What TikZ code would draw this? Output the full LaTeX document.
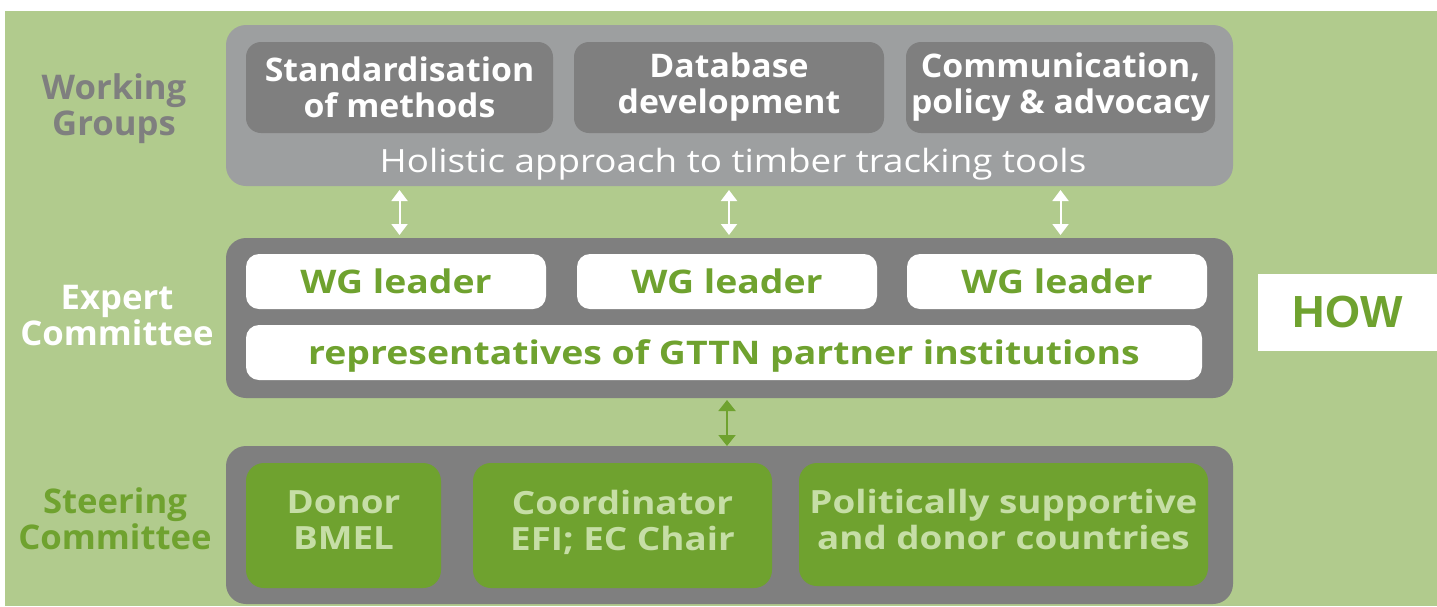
\documentclass[tikz,border=0pt]{standalone}
\usepackage{fontspec}
\setmainfont{Open Sans}
\newfontfamily\topfont[FakeStretch=1.04]{Open Sans}
\newfontfamily\widefont[FakeStretch=1.15]{Open Sans}
\newfontfamily\sidefont[FakeStretch=1.02]{Open Sans}
\newfontfamily\howfont{Liberation Sans}
\usetikzlibrary{arrows.meta}
\definecolor{bggreen}{HTML}{B1CB8D}
\definecolor{lgrey}{HTML}{9D9FA0}
\definecolor{dgrey}{HTML}{7F7F7F}
\definecolor{dgreen}{HTML}{6FA22F}
\definecolor{pgreen}{HTML}{C6DEA6}
\begin{document}
\begin{tikzpicture}[x=1pt,y=-1pt,
  boxbase/.style={inner sep=0pt, outer sep=0pt, anchor=north west, align=center},
  outerbox/.style={boxbase, rounded corners=20pt},
  wgitem/.style={boxbase, fill=dgrey, rounded corners=15pt, minimum height=91pt, text=white,
     font=\topfont\fontsize{32.5}{36}\selectfont\bfseries},
  leaderbox/.style={boxbase, fill=white, rounded corners=13pt, minimum height=55pt, text=dgreen,
     text depth=0pt, font=\widefont\fontsize{32.5}{36}\selectfont\bfseries},
  scitem/.style={boxbase, fill=dgreen, rounded corners=18pt, text=pgreen, text depth=10pt,
     font=\widefont\fontsize{32}{36}\selectfont\bfseries},
  sidelabel/.style={align=center, inner sep=0pt, font=\sidefont\fontsize{34}{36}\selectfont\bfseries},
  warr/.style={draw=white, line width=2pt, {Triangle[width=16pt,length=11pt]}-{Triangle[width=16pt,length=11pt]}},
  garr/.style={draw=dgreen, line width=2pt, {Triangle[width=17pt,length=11pt]}-{Triangle[width=17pt,length=11pt]}}
]
\useasboundingbox (0,0) rectangle (1437,606);
\fill[white] (0,0) rectangle (1437,606);
\fill[bggreen] (5,11) rectangle (1437,606);

% outer boxes
\node[outerbox, fill=lgrey, minimum width=1007pt, minimum height=161pt] (wgbox) at (226,25) {};
\node[outerbox, fill=dgrey, minimum width=1007pt, minimum height=160pt] (ecbox) at (226,238) {};
\node[outerbox, fill=dgrey, minimum width=1007pt, minimum height=158pt] (scbox) at (226,446) {};

% working groups items
\node[wgitem, minimum width=307pt] (s1) at (246,42) {Standardisation\\of methods};
\node[wgitem, minimum width=310pt] (s2) at (574,42) {Database\\development};
\node[wgitem, minimum width=309pt] (s3) at (906,42) {Communication,\\policy \& advocacy};
\node[anchor=base, inner sep=0pt, text=white, font=\widefont\fontsize{32}{36}\selectfont] (holistic) at (733,172) {Holistic approach to timber tracking tools};

% expert committee items
\node[leaderbox, minimum width=300pt] (wl1) at (246,254) {WG leader};
\node[leaderbox, minimum width=300pt] (wl2) at (577,254) {WG leader};
\node[leaderbox, minimum width=300pt] (wl3) at (907,254) {WG leader};
\node[leaderbox, minimum width=956pt] (rep) at (246,325) {representatives of GTTN partner institutions};

% steering committee items
\node[scitem, minimum width=195pt, minimum height=125pt] (g1) at (246,463) {Donor\\BMEL};
\node[scitem, minimum width=299pt, minimum height=125pt] (g2) at (473,463) {Coordinator\\EFI; EC Chair};
\node[scitem, minimum width=409pt, minimum height=123pt] (g3) at (799,463) {Politically supportive\\and donor countries};

% side labels
\node[sidelabel, text=dgrey] (lwg) at (114,109) {Working\\Groups};
\node[sidelabel, text=white] (lec) at (117,316) {Expert\\Committee};
\node[sidelabel, text=dgreen] (lsc) at (115,519) {Steering\\Committee};

% HOW
\node[boxbase, fill=white, minimum width=179pt, minimum height=77pt, text=dgreen,
      font=\howfont\fontsize{45}{50}\selectfont\bfseries] (how) at (1258,274) {HOW};

% arrows
\draw[warr, shorten <=4pt, shorten >=3pt] (s1.south |- wgbox.south) -- (s1.south |- ecbox.north);
\draw[warr, shorten <=4pt, shorten >=3pt] (s2.south |- wgbox.south) -- (s2.south |- ecbox.north);
\draw[warr, shorten <=4pt, shorten >=3pt] (s3.south |- wgbox.south) -- (s3.south |- ecbox.north);
\draw[garr, shorten <=2pt, shorten >=0pt] ([xshift=-2.5pt]ecbox.south) -- ([xshift=-2.5pt]scbox.north);
\end{tikzpicture}
\end{document}
